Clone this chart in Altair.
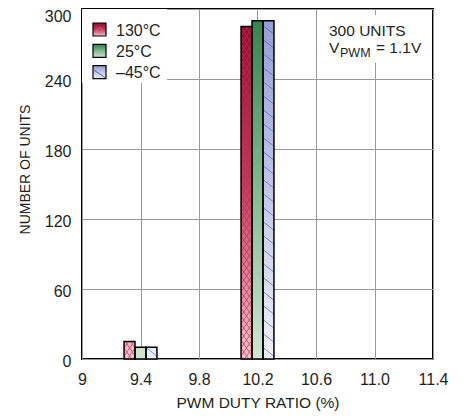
import json
import altair as alt
import pandas as pd

# ---- data ----
bins = [9.4, 10.2]                      # PWM duty ratio bins (%)
series = ["130°C", "25°C", "–45°C"]
units_130 = [15, 285]
units_25 = [10, 290]
units_m45 = [10, 290]
total_units = 300

x_ticks = [9, 9.4, 9.8, 10.2, 10.6, 11.0, 11.4]
x_tick_labels = ["9", "9.4", "9.8", "10.2", "10.6", "11.0", "11.4"]
y_ticks = [0, 60, 120, 180, 240, 300]

# ---- styles ----
W_PX, H_PX = 351, 350
bar_w = 0.075
stops = {
    "130°C": ["#8e0a2c", "#c43a5c", "#f4c4d0"],
    "25°C": ["#2e8248", "#7fb88e", "#d2e4d0"],
    "–45°C": ["#929cd4", "#c0c6e8", "#eef0fa"],
}
# hatch style per series: (slopes, vertical spacing px, phase px, colour)
hatch_style = {
    "130°C": ([1.45, -1.45], 8.0, 3.0, "#c02a52"),
    "–45°C": ([0.8], 14.0, 11.5, "#4f5fc4"),
}
FONT = "Liberation Sans"
TXT = "#231f20"

rows = []
for si, (s, vals) in enumerate(zip(series, [units_130, units_25, units_m45])):
    for b, v in zip(bins, vals):
        left = b + (si - 1) * bar_w - bar_w / 2
        rows.append({"series": s, "si": si, "bin": b, "units": v,
                     "x": left, "x2": left + bar_w})
df = pd.DataFrame(rows)
df["id"] = range(len(df))

px_x = W_PX / (x_ticks[-1] - x_ticks[0])
px_y = H_PX / total_units


def clip_line(c, k, W, H):
    """segment of line Y = c - k*X inside [0,W]x[0,H] (pixel space)."""
    lo, hi = 0.0, W
    if k != 0:
        xa, xb = (c - H) / k, c / k   # X where Y=H, Y=0
        lo, hi = max(lo, min(xa, xb)), min(hi, max(xa, xb))
    if hi - lo <= 0.3:
        return None
    return (lo, c - k * lo, hi, c - k * hi)


hatch_rows = []
for r in df.itertuples():
    if r.series not in hatch_style:
        continue
    slopes, sp, ph, col = hatch_style[r.series]
    Wp = (r.x2 - r.x) * px_x
    Hp = r.units * px_y
    for k in slopes:
        lo_c = min(0, k * Wp) - sp
        hi_c = Hp + max(0, k * Wp) + sp
        n0 = int((lo_c - ph) // sp)
        n1 = int((hi_c - ph) // sp) + 1
        for n in range(n0, n1 + 1):
            seg = clip_line(ph + n * sp, k, Wp, Hp)
            if seg:
                X1, Y1, X2, Y2 = seg
                hatch_rows.append({"series": r.series,
                                   "hx": r.x + X1 / px_x, "hy": Y1 / px_y,
                                   "hx2": r.x + X2 / px_x, "hy2": Y2 / px_y})
hdf = pd.DataFrame(hatch_rows)

xscale = alt.Scale(domain=[x_ticks[0], x_ticks[-1]], nice=False, zero=False)
yscale = alt.Scale(domain=[0, total_units], nice=False)
label_expr = (f"{json.dumps(x_tick_labels)}"
              f"[indexof({json.dumps(x_ticks)}, datum.value)]")
xaxis = alt.Axis(values=x_ticks, labelExpr=label_expr, title="PWM DUTY RATIO (%)",
                 grid=True, domain=False, ticks=False, tickSize=0,
                 labelPadding=12, labelFontSize=16, labelFont=FONT,
                 labelColor=TXT, titleFont=FONT, titleFontSize=15.5,
                 titleFontWeight="normal", titleColor=TXT,
                 titleX=175.5, titleY=43, titleBaseline="middle",
                 titleAnchor="middle", labelFlush=False)
yaxis = alt.Axis(values=y_ticks, title="NUMBER OF UNITS", grid=True,
                 domain=False, ticks=False, tickSize=0, labelPadding=11,
                 labelFontSize=16, labelFont=FONT, labelColor=TXT,
                 labelBaseline={"condition": {"test": f"datum.value == {total_units}",
                                              "value": "top"}, "value": "middle"},
                 labelOffset={"condition": {"test": f"datum.value == {total_units}",
                                            "value": -1}, "value": 2},
                 titleFont=FONT, titleFontSize=14, titleFontWeight="normal",
                 titleColor=TXT, titleX=-57, titleY=160, titleAngle=270,
                 titleAlign="center", titleBaseline="middle", labelFlush=False)


def grad(s, y1=0.0):
    c = stops[s]
    return alt.Gradient(gradient="linear", x1=0, x2=0, y1=y1, y2=1,
                        stops=[alt.GradientStop(color=c[0], offset=0),
                               alt.GradientStop(color=c[1], offset=0.5),
                               alt.GradientStop(color=c[2], offset=1)])


enc = dict(x=alt.X("x:Q", scale=xscale, axis=xaxis), x2="x2:Q",
           y=alt.Y("units:Q", scale=yscale, axis=yaxis), y2=alt.datum(0))

layers = []
for r in df.itertuples():
    # gradient spans the full 0..300 range of the plot, as in the reference
    y1 = 1 - total_units / r.units
    layers.append(
        alt.Chart(df).transform_filter(alt.datum.id == r.id)
        .mark_bar(fill=grad(r.series, y1), strokeWidth=0).encode(**enc)
    )

# hatching
for s, (_, _, _, col) in hatch_style.items():
    layers.append(
        alt.Chart(hdf).transform_filter(alt.datum.series == s)
        .mark_rule(color=col, strokeWidth=0.9, opacity=0.75)
        .encode(x=alt.X("hx:Q", scale=xscale), x2="hx2:Q",
                y=alt.Y("hy:Q", scale=yscale), y2="hy2:Q")
    )

# bar outlines on top
layers.append(alt.Chart(df).mark_bar(fillOpacity=0, stroke="black",
                                     strokeWidth=1.5).encode(**enc))

# white box behind legend and behind annotation
box = pd.DataFrame({"k": [0]})
layers.append(alt.Chart(box).mark_rect(fill="white").encode(
    x=alt.value(0), x2=alt.value(85), y=alt.value(0), y2=alt.value(74)))
layers.append(alt.Chart(box).mark_rect(fill="white").encode(
    x=alt.value(244), x2=alt.value(349), y=alt.value(6), y2=alt.value(54)))

# manual legend
for i, s in enumerate(series):
    ld = pd.DataFrame({"label": [s]})
    yy = 20.5 + i * 21.3
    layers.append(alt.Chart(ld).mark_rect(fill=grad(s), stroke="black",
                                          strokeWidth=1.2).encode(
        x=alt.value(11), x2=alt.value(24), y=alt.value(yy - 6.5),
        y2=alt.value(yy + 6.5)))
    if s == "130°C":
        layers.append(alt.Chart(ld).mark_point(shape="diamond", filled=False,
                                               color="#e0708e", strokeWidth=1,
                                               size=45).encode(
            x=alt.value(17.5), y=alt.value(yy + 1)))
    if s == "–45°C":
        layers.append(alt.Chart(ld).mark_rule(color="#4f5fc4", strokeWidth=1).encode(
            x=alt.value(12), x2=alt.value(23), y=alt.value(yy - 2),
            y2=alt.value(yy + 5.5)))
    layers.append(alt.Chart(ld).mark_text(align="left", baseline="middle",
                                          font=FONT, fontSize=16, color=TXT).encode(
        x=alt.value(34), y=alt.value(yy + 1), text="label:N"))

# annotation
ann = [("300 UNITS", 247, 26.5, 15.5), ("V", 247, 44, 15.5), ("PWM", 258, 48, 12.5),
       ("= 1.1V", 294, 44, 15.5)]
for t, ax_, ay_, fs in ann:
    layers.append(alt.Chart(box).mark_text(align="left", baseline="alphabetic",
                                           font=FONT, fontSize=fs, color=TXT,
                                           text=t).encode(
        x=alt.value(ax_), y=alt.value(ay_)))

chart = alt.layer(*layers).properties(
    width=W_PX, height=H_PX, autosize="none",
    padding={"left": 74, "top": 1, "right": 27, "bottom": 58},
).configure_view(stroke="black", strokeWidth=2).configure_axis(
    gridColor="#999999", gridWidth=1, gridOpacity=1)

chart.save("out.html", embed_options={"renderer": "svg", "actions": False})
